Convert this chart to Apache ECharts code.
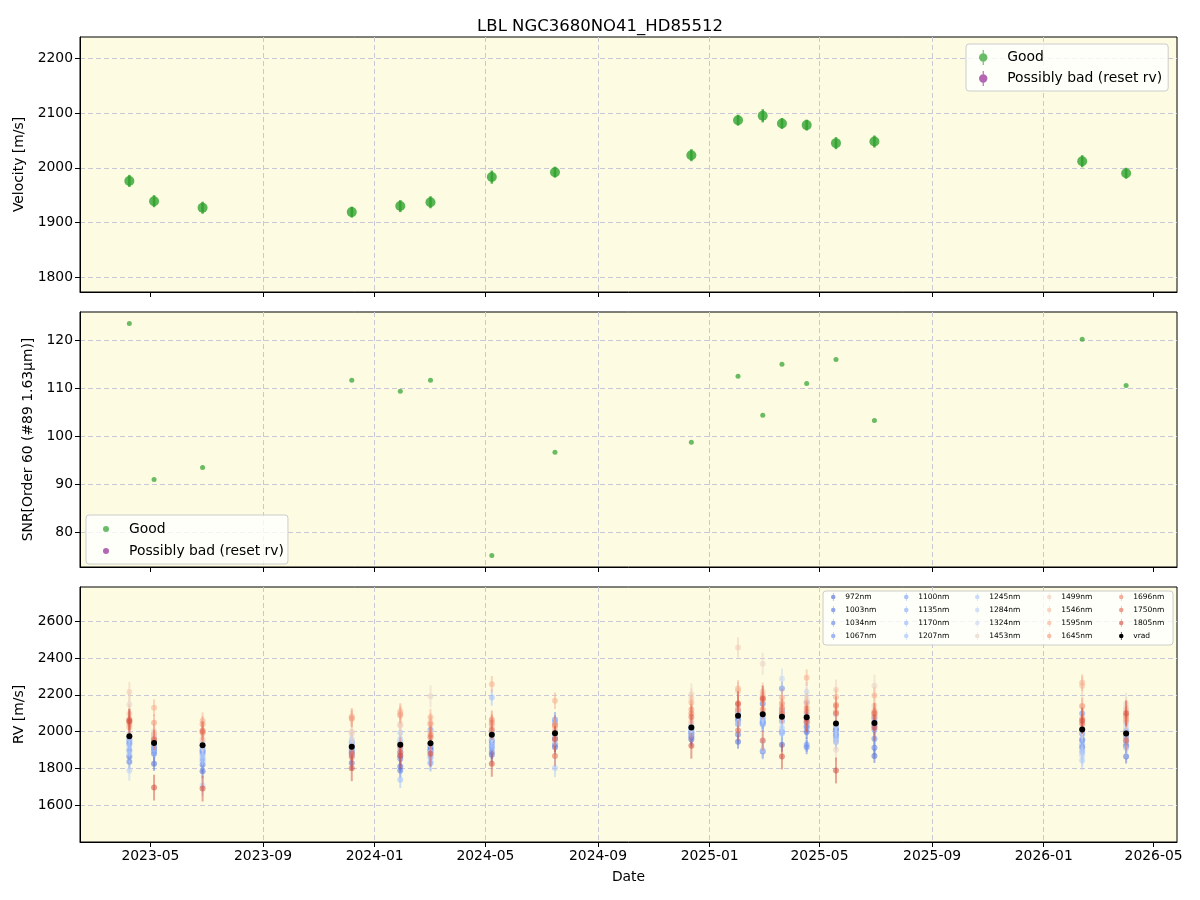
<!DOCTYPE html>
<html><head><meta charset="utf-8">
<script src="https://cdn.jsdelivr.net/npm/echarts@6/dist/echarts.min.js"></script>
<style>html,body{margin:0;padding:0;background:#fff}#chart{width:1200px;height:900px}</style>
</head><body><div id="chart"></div>
<script>
// ---------------- DATA ----------------
const epochDates = ['2023-04-08','2023-05-05','2023-06-27','2023-12-07','2024-01-29','2024-03-02',
  '2024-05-08','2024-07-16','2024-12-12','2025-02-01','2025-02-28','2025-03-21','2025-04-17',
  '2025-05-19','2025-06-30','2026-02-12','2026-04-01'];
const velocity = [1976,1939,1927,1919,1930,1937,1983,1992,2023,2087,2095,2081,2078,2045,2048,2012,1990];
const velocityErr = [11,11,11,10,11,11,12,10,11,10,12,10,10,11,11,11,10];
const snr = [123.5,91.0,93.5,111.7,109.4,111.7,75.2,96.7,98.8,112.5,104.4,115.0,111.0,116.0,103.3,120.2,110.6];
const wavelengths = ['972nm','1003nm','1034nm','1067nm','1100nm','1135nm','1170nm','1207nm','1245nm',
  '1284nm','1324nm','1453nm','1499nm','1546nm','1595nm','1645nm','1696nm','1750nm','1805nm'];
const wlErr = [38,38,38,40,42,42,45,45,50,55,55,60,55,50,45,45,50,55,70];
// one row per epoch, one column per wavelength (same order as `wavelengths`)
const rvByEpoch = [
  [1866,1837,1898,1935,1953,1940,1960,1918,1880,1790,1990,2148,2215,2098,2025,2040,2060,2067,2055],
  [1826,1880,1908,1895,1915,1925,1905,1940,1950,1970,1974,2003,1990,1985,2130,2049,1960,1955,1697],
  [1786,1821,1893,1880,1900,1853,1840,1910,1870,1708,1940,1953,1960,1990,2060,2040,2007,2000,1692],
  [1831,1889,1870,1900,1943,1920,1910,1930,1935,1950,1960,1989,2000,2075,2083,2070,1862,1880,1802],
  [1811,1790,1853,1870,1890,1910,1940,1739,1995,1960,1950,2040,2034,2098,2110,2090,1920,1889,1870],
  [1908,1900,1920,2011,1890,1860,1829,1835,1870,1890,1930,2192,2000,2052,2079,2040,1984,1970,1880],
  [1875,1890,1953,1940,1911,1920,1930,2186,1960,1990,2000,2020,2033,2040,2257,2050,2065,2010,1826],
  [1916,1930,1960,2067,2050,2000,1990,1970,1804,1950,1980,2000,2010,1995,2168,2030,2036,1869,1960],
  [1958,1970,1992,1980,2000,2010,1990,2015,2030,2020,2040,2203,2180,2056,2158,2120,2099,2080,1924],
  [1946,1985,2061,2070,2040,2100,2090,2110,2050,2100,2120,2130,2457,2221,2235,2155,2119,2007,2150],
  [1893,2152,2052,2040,2060,2080,2050,2070,1900,1950,2100,2369,2200,2217,2190,2174,2120,1953,2180],
  [1929,2116,2234,2090,2060,1998,2000,1990,2020,2050,2288,2150,2100,2120,2185,2155,2130,2100,1866],
  [1998,2030,1916,1930,2020,2159,2060,2050,2090,2100,2215,2180,2140,2160,2293,2127,2110,2052,2070],
  [2007,1980,2010,2020,1990,1944,1960,1970,2000,2030,2094,1902,2228,2110,2188,2147,2140,2100,1790],
  [1869,1913,1962,2040,2030,2010,2070,2060,2050,2080,2090,2250,2141,2100,2196,2112,2080,2100,2022],
  [1916,1953,1989,2099,1960,1930,1886,1900,1844,1870,2000,2020,2137,2250,2266,2140,2071,2043,2060],
  [1866,1920,1971,1930,1950,1990,2000,2010,2050,1910,2030,2152,2130,2116,2058,2070,2087,1953,2100]
];
const xTickDates = ['2023-05-01','2023-09-01','2024-01-01','2024-05-01','2024-09-01','2025-01-01',
  '2025-05-01','2025-09-01','2026-01-01','2026-05-01'];
const xMin = '2023-02-13T02:00:00Z';
const xMax = '2026-05-26T14:00:00Z';

// ---------------- HELPERS ----------------
const FONT = 'DejaVu Sans';
const ts = d => Date.parse(d.length === 10 ? d + 'T00:00:00Z' : d);
const xs = epochDates.map(ts);
const xTicks = xTickDates.map(ts);
function fmtDate(v) {
  const d = new Date(v);
  return d.getUTCFullYear() + '-' + String(d.getUTCMonth() + 1).padStart(2, '0');
}
const cwAnchors = ['#3b4cc0','#5977e3','#7b9ff9','#9ebeff','#c0d4f5','#dddcdc','#f2cbb7','#f7ac8e','#ee8468','#d65244','#b40426'];
function hex2rgb(h){return [1,3,5].map(i=>parseInt(h.substr(i,2),16));}
function coolwarm(t) {
  t = Math.max(0, Math.min(1, t));
  const p = t * 10, i = Math.min(9, Math.floor(p)), f = p - i;
  const a = hex2rgb(cwAnchors[i]), b = hex2rgb(cwAnchors[i + 1]);
  const c = a.map((v, k) => Math.round(v + (b[k] - v) * f));
  return 'rgb(' + c.join(',') + ')';
}
const ERR_ICON = 'path://M9.5,8A4.5,4.5 0 1 1 0.5,8A4.5,4.5 0 1 1 9.5,8Z M4.4,0H5.6V16H4.4Z';

function errSeries(name, xi, yi, data, color, r, lw, op, lineOp) {
  return {
    type: 'custom', name, xAxisIndex: xi, yAxisIndex: yi, clip: true,
    itemStyle: { color, opacity: op },
    encode: { x: 0, y: 1 },
    data,
    renderItem: function (params, api) {
      const x = api.value(0), y = api.value(1), e = api.value(2);
      const p = api.coord([x, y]);
      const p1 = api.coord([x, y - e]);
      const p2 = api.coord([x, y + e]);
      return {
        type: 'group', children: [
          { type: 'line', shape: { x1: p[0], y1: p1[1], x2: p[0], y2: p2[1] },
            style: { stroke: color, lineWidth: lw, opacity: lineOp } },
          { type: 'circle', shape: { cx: p[0], cy: p[1], r },
            style: { fill: color, opacity: op } }
        ]
      };
    }
  };
}

const GRID_BG = '#fdfce2';
const gridLine = { show: true, showMinLine: false, showMaxLine: false,
  lineStyle: { color: '#c9c9d6', type: [5, 3], width: 1 } };
const grids = [
  { left: 80, right: 23, top: 37, height: 255 },
  { left: 80, right: 23, top: 312, height: 255 },
  { left: 80, right: 23, top: 587, height: 255 }
].map(g => Object.assign(g, { show: true, backgroundColor: GRID_BG, borderColor: '#000', borderWidth: 1 }));

function xAxis(i, labels) {
  return {
    type: 'value', gridIndex: i, min: ts(xMin), max: ts(xMax),
    axisLine: { show: true, lineStyle: { color: '#000' } },
    axisTick: { show: true, customValues: xTicks, length: 5, lineStyle: { color: '#000' } },
    axisLabel: { show: labels, customValues: xTicks, formatter: fmtDate, color: '#000',
      fontFamily: FONT, fontSize: 13.9, margin: 7 },
    splitLine: gridLine,
    name: labels ? 'Date' : '', nameLocation: 'middle', nameGap: 28,
    nameTextStyle: { fontFamily: FONT, fontSize: 13.9, color: '#000' }
  };
}
function yAxis(i, min, max, split, name, gap) {
  return {
    type: 'value', gridIndex: i, min, max, splitNumber: split,
    axisLine: { show: true, lineStyle: { color: '#000' } },
    axisTick: { show: true, length: 5, lineStyle: { color: '#000' } },
    axisLabel: { color: '#000', fontFamily: FONT, fontSize: 13.9, margin: 7,
      showMinLabel: false, showMaxLabel: false, formatter: v => String(v) },
    splitLine: gridLine,
    name, nameLocation: 'middle', nameGap: gap, nameRotate: 90,
    nameTextStyle: { fontFamily: FONT, fontSize: 13.9, color: '#000' }
  };
}

// ---------------- SERIES ----------------
const GREEN = '#2ca02c', PURPLE = '#800080';
const series = [];
series.push(errSeries('Good', 0, 0, xs.map((x, i) => [x, velocity[i], velocityErr[i]]), GREEN, 5, 2.5, 0.78, 0.8));
series.push(errSeries('Possibly bad (reset rv)', 0, 0, [], PURPLE, 5, 2.5, 0.6, 0.6));
series.push({ type: 'scatter', name: 'Good', xAxisIndex: 1, yAxisIndex: 1, symbolSize: 5,
  itemStyle: { color: GREEN, opacity: 0.7 }, data: xs.map((x, i) => [x, snr[i]]) });
series.push({ type: 'scatter', name: 'Possibly bad (reset rv)', xAxisIndex: 1, yAxisIndex: 1, symbolSize: 5,
  itemStyle: { color: PURPLE, opacity: 0.6 }, data: [] });
// colour from wavelength on the coolwarm map (900 nm -> 0, 1900 nm -> 1)
const wlColors = wavelengths.map(w => coolwarm((parseFloat(w) - 900) / 1000));
wavelengths.forEach((w, j) => {
  series.push(errSeries(w, 2, 2, xs.map((x, i) => [x, rvByEpoch[i][j], wlErr[j]]), wlColors[j], 3, 2, 0.55, 0.5));
});
series.push(errSeries('vrad', 2, 2, xs.map((x, i) => [x, velocity[i], velocityErr[i]]), '#000', 3, 1.5, 1, 1));

// ---------------- LEGENDS ----------------
const legends = [
  { orient: 'vertical', left: 966, top: 44, padding: [6, 6, 5, 13], itemGap: 6, itemWidth: 38, itemHeight: 15,
    backgroundColor: 'rgba(255,255,255,0.8)', borderColor: '#cccccc', borderWidth: 1, borderRadius: 3,
    textStyle: { fontFamily: FONT, fontSize: 13.9, color: '#000' }, selectedMode: false,
    data: [{ name: 'Good', icon: ERR_ICON, itemStyle: { color: GREEN, opacity: 0.7 } },
           { name: 'Possibly bad (reset rv)', icon: ERR_ICON, itemStyle: { color: PURPLE, opacity: 0.6 } }] },
  { orient: 'vertical', left: 86, top: 515, padding: [7, 4, 6, 17], itemGap: 8, itemWidth: 36, itemHeight: 6,
    backgroundColor: 'rgba(255,255,255,0.8)', borderColor: '#cccccc', borderWidth: 1, borderRadius: 3,
    textStyle: { fontFamily: FONT, fontSize: 13.9, color: '#000' }, selectedMode: false,
    data: [{ name: 'Good', icon: 'circle', itemStyle: { color: GREEN, opacity: 0.7 } },
           { name: 'Possibly bad (reset rv)', icon: 'circle', itemStyle: { color: PURPLE, opacity: 0.6 } }] }
];
const allNames = wavelengths.concat(['vrad']);
const colLefts = [831, 904, 975, 1047, 1119];
for (let c = 0; c < 5; c++) {
  legends.push({
    orient: 'vertical', left: colLefts[c], top: 593, padding: 0, itemGap: 5, itemWidth: 14, itemHeight: 8,
    z: 60, selectedMode: false,
    textStyle: { fontFamily: FONT, fontSize: 7.5, color: '#000' },
    data: allNames.slice(c * 4, c * 4 + 4).map(n => ({
      name: n, icon: ERR_ICON,
      itemStyle: { color: n === 'vrad' ? '#000' : wlColors[wavelengths.indexOf(n)], opacity: n === 'vrad' ? 1 : 0.65 }
    }))
  });
}

const option = {
  animation: false,
  backgroundColor: '#ffffff',
  title: { text: 'LBL NGC3680NO41_HD85512', left: 'center', top: 13,
    textStyle: { fontFamily: FONT, fontSize: 16.5, fontWeight: 'normal', color: '#000' } },
  grid: grids,
  xAxis: [xAxis(0, false), xAxis(1, false), xAxis(2, true)],
  yAxis: [
    yAxis(0, 1773, 2239, 5, 'Velocity [m/s]', 50),
    yAxis(1, 72.8, 125.9, 5, 'SNR[Order 60 (#89 1.63μm)]', 45),
    yAxis(2, 1402, 2785, 7, 'RV [m/s]', 50)
  ],
  legend: legends,
  graphic: [{ type: 'rect', z: 50, shape: { x: 823, y: 591, width: 350, height: 54, r: 3 },
    style: { fill: 'rgba(255,255,255,0.8)', stroke: '#cccccc', lineWidth: 1 } }],
  series
};
const chart = echarts.init(document.getElementById('chart'), null, { renderer: 'canvas' });
chart.setOption(option);
</script></body></html>
